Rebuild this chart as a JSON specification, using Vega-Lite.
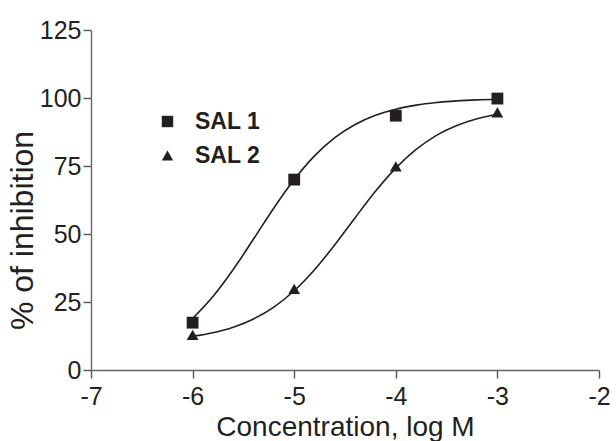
{
  "$schema": "https://vega.github.io/schema/vega-lite/v6.json",
  "width": 508,
  "height": 340,
  "autosize": "none",
  "padding": {"left": 91, "top": 30, "right": 17, "bottom": 71},
  "background": "white",
  "config": {
    "view": {"stroke": null},
    "font": "Liberation Sans",
    "axis": {"grid": false, "domainColor": "#666666", "tickColor": "#555555", "domainWidth": 1.4, "tickWidth": 1.4, "tickSize": 8, "labelColor": "#231f20", "titleColor": "#231f20", "labelFont": "Liberation Sans", "titleFont": "Liberation Sans", "titleFontWeight": "normal"}
  },
  "datasets": {
    "curves": [
      {"x": -6.0, "y": 18.9, "series": "SAL 1"}, {"x": -5.8, "y": 27.0, "series": "SAL 1"}, {"x": -5.6, "y": 36.95, "series": "SAL 1"}, {"x": -5.4, "y": 48.16, "series": "SAL 1"}, {"x": -5.2, "y": 59.56, "series": "SAL 1"}, {"x": -5.0, "y": 70.0, "series": "SAL 1"}, {"x": -4.8, "y": 78.72, "series": "SAL 1"}, {"x": -4.6, "y": 85.43, "series": "SAL 1"}, {"x": -4.4, "y": 90.28, "series": "SAL 1"}, {"x": -4.2, "y": 93.64, "series": "SAL 1"}, {"x": -4.0, "y": 95.89, "series": "SAL 1"}, {"x": -3.8, "y": 97.37, "series": "SAL 1"}, {"x": -3.6, "y": 98.32, "series": "SAL 1"}, {"x": -3.4, "y": 98.93, "series": "SAL 1"}, {"x": -3.2, "y": 99.32, "series": "SAL 1"}, {"x": -3.0, "y": 99.57, "series": "SAL 1"},
      {"x": -6.0, "y": 12.38, "series": "SAL 2"}, {"x": -5.8, "y": 13.72, "series": "SAL 2"}, {"x": -5.6, "y": 15.75, "series": "SAL 2"}, {"x": -5.4, "y": 18.78, "series": "SAL 2"}, {"x": -5.2, "y": 23.14, "series": "SAL 2"}, {"x": -5.0, "y": 29.13, "series": "SAL 2"}, {"x": -4.8, "y": 36.86, "series": "SAL 2"}, {"x": -4.6, "y": 46.05, "series": "SAL 2"}, {"x": -4.4, "y": 56.01, "series": "SAL 2"}, {"x": -4.2, "y": 65.7, "series": "SAL 2"}, {"x": -4.0, "y": 74.21, "series": "SAL 2"}, {"x": -3.8, "y": 81.08, "series": "SAL 2"}, {"x": -3.6, "y": 86.25, "series": "SAL 2"}, {"x": -3.4, "y": 89.88, "series": "SAL 2"}, {"x": -3.2, "y": 92.37, "series": "SAL 2"}, {"x": -3.0, "y": 94.02, "series": "SAL 2"}
    ],
    "points": [
      {"x": -6, "y": 17.4, "series": "SAL 1"}, {"x": -5, "y": 70.0, "series": "SAL 1"}, {"x": -4, "y": 93.5, "series": "SAL 1"}, {"x": -3, "y": 99.8, "series": "SAL 1"},
      {"x": -6, "y": 12.9, "series": "SAL 2"}, {"x": -5, "y": 29.8, "series": "SAL 2"}, {"x": -4, "y": 74.9, "series": "SAL 2"}, {"x": -3, "y": 94.7, "series": "SAL 2"}
    ]
  },
  "layer": [
    {
      "data": {"name": "curves"},
      "mark": {"type": "line", "interpolate": "monotone", "color": "#231f20", "strokeWidth": 1.6},
      "encoding": {
        "x": {"field": "x", "type": "quantitative", "scale": {"domain": [-7, -2], "nice": false, "zero": false},
              "axis": {"values": [-7, -6, -5, -4, -3, -2], "labelExpr": "datum.value + ''", "title": "Concentration, log M", "labelFontSize": 25, "titleFontSize": 28, "labelPadding": 6, "titleBaseline": "alphabetic", "titleY": 65, "labelFlush": false}},
        "y": {"field": "y", "type": "quantitative", "scale": {"domain": [0, 125], "nice": false},
              "axis": {"values": [0, 25, 50, 75, 100, 125], "title": "% of inhibition", "labelFontSize": 25, "titleFontSize": 32, "labelPadding": 2, "titleBaseline": "alphabetic", "titleX": -59, "titleY": 200, "titleAngle": -90, "labelFlush": false}},
        "detail": {"field": "series"}
      }
    },
    {
      "data": {"name": "points"},
      "mark": {"type": "point", "filled": true, "opacity": 1, "color": "#231f20"},
      "encoding": {
        "x": {"field": "x", "type": "quantitative"},
        "y": {"field": "y", "type": "quantitative"},
        "shape": {"field": "series", "type": "nominal", "scale": {"domain": ["SAL 1", "SAL 2"], "range": ["square", "triangle-up"]},
                  "legend": {"title": null, "orient": "none", "legendX": 65, "legendY": 80, "labelFontSize": 23, "labelFontWeight": "bold", "labelColor": "#231f20", "labelFont": "Liberation Sans", "symbolSize": 130, "symbolFillColor": "#231f20", "symbolStrokeWidth": 0, "labelOffset": 16, "rowPadding": 10}},
        "size": {"value": 140}
      }
    }
  ]
}
